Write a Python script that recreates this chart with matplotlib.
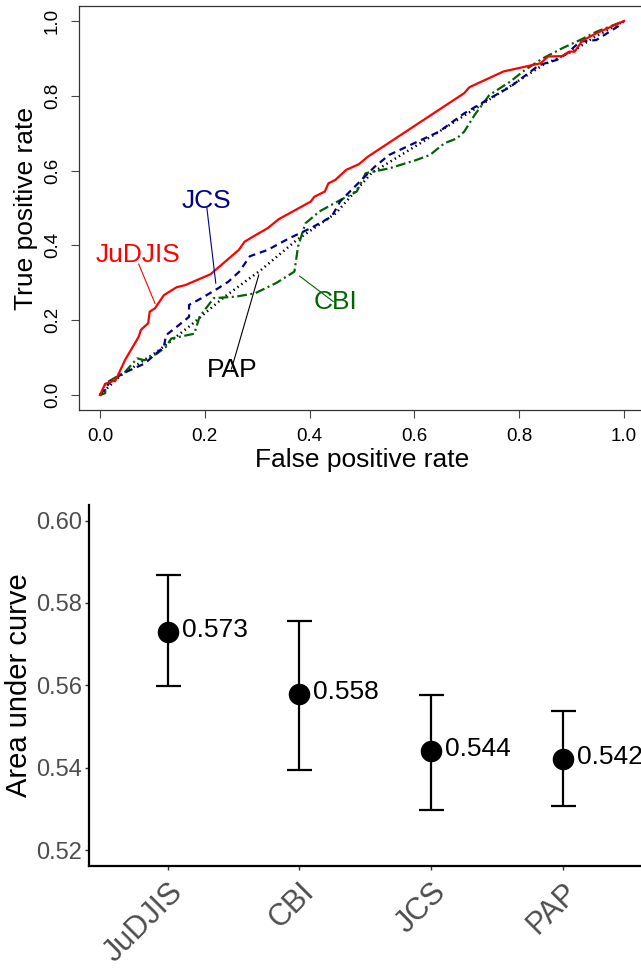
import matplotlib
matplotlib.use("Agg")
import matplotlib.pyplot as plt

plt.rcParams['font.family'] = ['Liberation Sans', 'DejaVu Sans']
plt.rcParams['lines.scale_dashes'] = False

# ROC curves
judjis_fpr = [0.000, 0.010, 0.030, 0.048, 0.074, 0.078, 0.092, 0.095, 0.105, 0.122,
              0.146, 0.163, 0.211, 0.265, 0.276, 0.300, 0.320, 0.341, 0.402, 0.409,
              0.429, 0.436, 0.449, 0.470, 0.494, 0.511, 0.695, 0.705, 0.770, 0.841,
              0.855, 0.882, 0.895, 0.906, 0.920, 0.947, 1.000]
judjis_tpr = [0.000, 0.030, 0.040, 0.094, 0.156, 0.174, 0.192, 0.223, 0.232, 0.267,
              0.288, 0.294, 0.323, 0.388, 0.410, 0.430, 0.446, 0.470, 0.517, 0.530,
              0.544, 0.566, 0.575, 0.602, 0.617, 0.637, 0.807, 0.823, 0.865, 0.887,
              0.905, 0.906, 0.918, 0.918, 0.947, 0.967, 1.000]

cbi_fpr = [0.000, 0.010, 0.010, 0.048, 0.071, 0.085, 0.109, 0.126, 0.136, 0.180,
           0.190, 0.217, 0.259, 0.296, 0.337, 0.371, 0.378, 0.392, 0.419, 0.453,
           0.490, 0.507, 0.552, 0.603, 0.630, 0.657, 0.681, 0.695, 0.715, 0.743,
           0.783, 0.811, 0.845, 0.882, 0.916, 0.947, 1.000]
cbi_tpr = [0.000, 0.005, 0.031, 0.062, 0.098, 0.093, 0.111, 0.129, 0.151, 0.164,
           0.209, 0.259, 0.263, 0.272, 0.300, 0.330, 0.397, 0.459, 0.491, 0.517,
           0.544, 0.593, 0.606, 0.628, 0.642, 0.673, 0.686, 0.704, 0.749, 0.802,
           0.838, 0.869, 0.900, 0.927, 0.949, 0.971, 1.000]

jcs_fpr = [0.000, 0.020, 0.044, 0.085, 0.122, 0.126, 0.147, 0.170, 0.170, 0.194,
           0.225, 0.245, 0.266, 0.286, 0.320, 0.361, 0.402, 0.442, 0.459, 0.524,
           0.552, 0.613, 0.647, 0.695, 0.750, 0.783, 0.838, 0.872, 0.892, 0.916,
           0.947, 0.988, 1.000]
jcs_tpr = [0.000, 0.036, 0.058, 0.084, 0.129, 0.160, 0.183, 0.209, 0.241, 0.259,
           0.285, 0.303, 0.330, 0.371, 0.388, 0.419, 0.446, 0.477, 0.519, 0.610,
           0.642, 0.682, 0.704, 0.753, 0.798, 0.824, 0.882, 0.896, 0.914, 0.945,
           0.949, 0.985, 1.000]

pap_fpr = [0.000, 0.040, 0.109, 0.170, 0.238, 0.307, 0.375, 0.450, 0.518, 0.647,
           0.722, 0.845, 0.906, 0.940, 1.000]
pap_tpr = [0.000, 0.053, 0.116, 0.183, 0.263, 0.334, 0.414, 0.486, 0.593, 0.704,
           0.771, 0.882, 0.922, 0.954, 1.000]

# AUC with confidence intervals
models = ['JuDJIS', 'CBI', 'JCS', 'PAP']
auc = [0.573, 0.558, 0.544, 0.542]
auc_lo = [0.5598, 0.5395, 0.5297, 0.5307]
auc_hi = [0.5868, 0.5757, 0.5577, 0.5537]

W, H = 641, 974
fig = plt.figure(figsize=(W / 100, H / 100), dpi=100)

# ---- top: ROC curves ----
ax1 = fig.add_axes([79 / W, (H - 410) / H, (645 - 79) / W, (410 - 6) / H])
ax1.plot(pap_fpr, pap_tpr, color='black', lw=1.8, dashes=(1, 2.5))
ax1.plot(cbi_fpr, cbi_tpr, color='#006400', lw=1.6, dashes=(7, 2.5, 1.5, 2.5))
ax1.plot(jcs_fpr, jcs_tpr, color='#00008B', lw=1.6, dashes=(5, 3.5))
ax1.plot(judjis_fpr, judjis_tpr, color='red', lw=1.6)

ax1.set_xlim(-0.04, 1.04)
ax1.set_ylim(-0.04, 1.04)
ticks = [0.0, 0.2, 0.4, 0.6, 0.8, 1.0]
ax1.set_xticks(ticks)
ax1.set_yticks(ticks)
ax1.set_xticklabels(['%.1f' % t for t in ticks], fontsize=13.5)
ax1.set_yticklabels(['%.1f' % t for t in ticks], fontsize=13.5, rotation=90, va='center')
ax1.tick_params(length=6, width=0.8, color='#444444', pad=7)
for s in ax1.spines.values():
    s.set_linewidth(0.9)
    s.set_color('#333333')
ax1.spines['right'].set_visible(False)  # cut off in the original
ax1.set_xlabel('False positive rate', fontsize=19, labelpad=2)
ax1.set_ylabel('True positive rate', fontsize=19, labelpad=4)

# labels with leader lines
ann = [('JuDJIS', 'red', (0.074, 0.35), (0.105, 0.245)),
       ('JCS', '#00008B', (0.204, 0.50), (0.221, 0.299)),
       ('CBI', '#006400', (0.445, 0.25), (0.381, 0.318)),
       ('PAP', 'black', (0.251, 0.07), (0.303, 0.321))]
txt_pos = {'JuDJIS': (0.073, 0.375), 'JCS': (0.203, 0.52),
           'CBI': (0.450, 0.248), 'PAP': (0.252, 0.068)}
for name, col, p0, p1 in ann:
    ax1.plot([p0[0], p1[0]], [p0[1], p1[1]], color=col, lw=0.8)
    ax1.text(*txt_pos[name], name, color=col, fontsize=19, ha='center', va='center')

# ---- bottom: AUC point estimates ----
ax2 = fig.add_axes([88.7 / W, (H - 865.7) / H, (642 - 88.7) / W, (865.7 - 505) / H])
xs = list(range(1, len(models) + 1))
err = [[a - l for a, l in zip(auc, auc_lo)], [h - a for a, h in zip(auc, auc_hi)]]
ax2.errorbar(xs, auc, yerr=err, fmt='o', color='black', ms=14.5, elinewidth=1.6,
             capsize=9, capthick=1.6)
for x, a in zip(xs, auc):
    ax2.annotate('%.3f' % a, (x, a), xytext=(10, 1.5), textcoords='offset points',
                 fontsize=19, ha='left', va='center', annotation_clip=False)

ax2.set_xlim(0.4, 4.6)
ax2.set_ylim(0.5162, 0.6038)
ax2.set_yticks([0.52, 0.54, 0.56, 0.58, 0.60])
ax2.set_yticklabels(['0.52', '0.54', '0.56', '0.58', '0.60'], fontsize=17, color='#4D4D4D')
ax2.set_xticks(xs)
ax2.set_xticklabels(models, fontsize=22, color='#4D4D4D', rotation=45,
                    ha='right', va='top', rotation_mode='anchor')
ax2.tick_params(axis='both', length=3, width=1, color='#333333')
ax2.tick_params(axis='x', pad=5)
ax2.tick_params(axis='y', pad=2)
ax2.spines['top'].set_visible(False)
ax2.spines['right'].set_visible(False)
for s in ('left', 'bottom'):
    ax2.spines[s].set_linewidth(1.6)
    ax2.spines[s].set_color('black')
ax2.set_ylabel('Area under curve', fontsize=21, labelpad=2)

fig.savefig('out.png', dpi=100)
